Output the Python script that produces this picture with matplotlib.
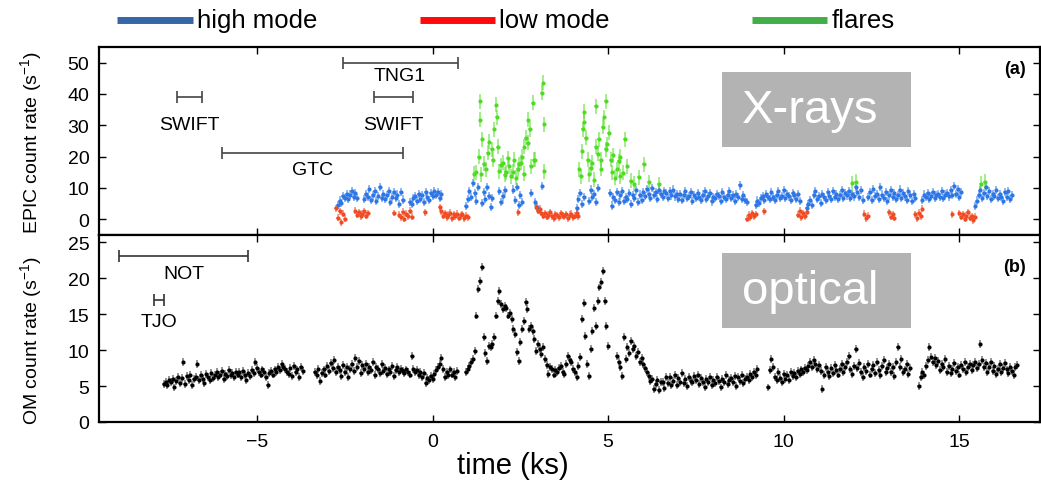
import numpy as np
import matplotlib
matplotlib.use('Agg')
import matplotlib.pyplot as plt
from matplotlib.colors import to_rgba
from matplotlib.lines import Line2D
from matplotlib.patches import Rectangle

plt.rcParams['font.family'] = ['Liberation Sans', 'DejaVu Sans']
plt.rcParams['mathtext.fontset'] = 'custom'
plt.rcParams['mathtext.rm'] = 'Liberation Sans'
plt.rcParams['mathtext.it'] = 'Liberation Sans:italic'
plt.rcParams['mathtext.bf'] = 'Liberation Sans:bold'

DT = 0.05  # light curve bin, ks

# EPIC light curve, high mode: (start time, rates)
high_segments = [
    (-2.70, [4.5, 6.0, 5.2, 7.5, 6.8, 8.2, 6.5, 7.9, 9.0, 7.2, 8.5, 6.8]),
    (-1.95, [6.5, 8.2, 7.0, 9.8, 6.2, 7.6, 8.9, 5.8, 7.4, 10.3, 6.9, 8.0, 6.4, 7.8, 9.1, 5.5,
             7.2, 8.6, 6.7, 7.9, 5.0, 8.8, 6.3]),
    (-0.65, [5.5, 4.8, 6.9, 7.5, 5.9, 8.1, 6.6, 7.7, 5.4, 8.6, 7.0, 6.2, 8.3, 7.4, 9.0, 7.8,
             8.7, 6.9, 8.2]),
    (0.95, [4.2, 6.5, 9.0, 7.2, 11.5, 8.4, 6.0, 10.2]),
    (1.40, [5.2, 8.8, 6.5, 10.3, 7.4, 4.0, 6.9]),
    (1.90, [8.9, 5.6, 7.3, 9.2]),
    (2.30, [9.5, 6.2, 10.2, 4.5, 7.8, 5.5]),
    (4.10, [3.5, 6.5, 8.5, 4.8, 7.2]),
    (4.45, [5.8, 9.5, 7.0, 8.2, 5.4, 9.9]),
    (5.05, [8.5, 4.4, 7.0, 6.1, 8.8, 5.4, 7.6, 9.0, 5.9, 7.2,
            6.4, 8.3, 4.9, 7.7, 6.8, 9.2, 5.6, 7.9, 6.3, 8.6,
            7.4, 9.6, 8.0, 6.9, 9.9, 7.7, 8.8, 6.6, 9.3, 8.1,
            7.1, 9.0, 8.4, 6.8, 8.9, 7.6, 9.5, 7.3, 8.2, 6.5,
            8.0, 6.2, 7.7, 9.1, 6.9, 7.5, 8.6, 5.9, 7.8, 6.7,
            8.4, 7.0, 6.1, 7.9, 9.0, 6.6, 7.4, 8.3, 5.7, 7.2,
            6.8, 8.1, 7.5, 6.0, 8.7, 7.1, 6.4, 7.9, 8.9, 6.9,
            7.6, 5.8, 8.2, 7.0, 10.8, 6.5, 7.8, 6.2, 5.5]),
    (9.20, [4.5, 6.0, 5.2, 6.8, 7.4, 6.1, 8.0, 7.2, 6.5, 8.6, 7.0, 6.3, 7.8, 8.9, 6.7, 7.5,
            9.3, 6.9, 8.1, 7.3, 6.2, 8.4, 7.7, 6.6, 8.0, 5.8]),
    (10.65, [3.5, 5.0, 6.2, 4.6, 7.8, 8.9, 6.5, 7.3, 5.3, 8.2, 7.0, 6.1, 8.7, 7.5, 6.6, 9.0,
             7.2, 8.1, 6.4, 7.7, 9.3, 6.9, 8.4, 7.6, 9.1, 6.8, 8.0, 7.3, 10.2, 8.6, 7.1, 9.4,
             6.3]),
    (12.40, [7.0, 8.6, 6.2, 9.8, 7.4, 8.1, 6.6, 10.3, 7.9, 6.8, 8.8, 5.9, 7.6, 9.2, 7.1, 8.3,
             6.4, 7.8, 9.5, 6.9, 8.5, 7.3, 6.1, 8.9, 7.7, 5.8, 8.2, 6.7]),
    (13.95, [6.2, 7.9, 7.0, 8.5, 6.6, 7.4, 8.8, 6.9, 7.6, 8.1, 7.2, 9.0, 6.8, 7.9, 8.4, 7.3,
             9.3, 7.8, 10.5, 8.2, 9.6, 7.0, 8.6]),
    (15.45, [4.2, 6.0, 7.9, 9.2, 6.8, 8.5, 10.3, 7.4, 9.0, 6.6, 8.1, 7.5, 9.4, 6.9, 8.0, 7.2,
             5.8, 8.7, 7.0, 9.1, 6.4, 7.7]),
]
high_extra_t = [2.80, 2.93, 2.98, 3.12]
high_extra_v = [8.5, 5.4, 3.8, 10.5]

# EPIC light curve, low mode
low_segments = [
    (-2.75, [3.5, 0.5, 2.5, -1.0, 1.8, 0.2]),
    (-2.20, [2.8, 1.5, 2.3, 0.9, 1.8, 2.6, 1.2, 2.0]),
    (-0.95, [1.5, 0.6, 2.4, 0.2, 1.8, 1.0, 2.7, 0.8]),
    (0.20, [3.8, 2.5, 1.2, 1.9, 0.6, 1.4, 2.1, 0.3, 1.6, 0.9, 1.8, 0.5, 1.3, 1.7, 0.4, 1.1, 0.7]),
    (2.95, [4.0, 2.8, 3.4, 2.0, 1.2, 1.9, 0.8, 1.5, 2.2, 1.0, 0.4, 1.7, 1.3, 0.6, 2.0, 1.1,
            0.9, 1.6, 0.3, 1.4, 1.8, 0.7, 1.2, 2.1, 1.0]),
    (8.95, [0.2, 1.5, 0.6, 2.0, 1.0, 1.7]),
    (10.40, [1.5, 2.8, 0.6, 1.9, 0.9, 2.4]),
    (12.30, [1.8, 0.4, 1.2]),
    (13.00, [2.2, 0.8, 1.6, 0.5]),
    (13.75, [1.6, 0.3, 2.1, 0.9, 3.4]),
    (15.00, [2.0, 0.8, 1.6, 0.2, 1.2, 2.3, 0.5, 1.0, -0.3, 0.8]),
]
low_extra_t = [-1.10, -0.22, 2.44, 9.43, 14.80]
low_extra_v = [2.0, 2.2, 2.2, 2.5, 1.6]

# EPIC light curve, flares
flare_t = [1.19, 1.25, 1.31, 1.36, 1.36, 1.39, 1.42, 1.45, 1.53, 1.58, 1.62, 1.68, 1.71,
           1.76, 1.81, 1.83, 1.86, 1.90, 1.95, 2.00, 2.05, 2.09, 2.14, 2.19, 2.24, 2.28,
           2.33, 2.38, 2.42, 2.47, 2.52, 2.56, 2.60, 2.61, 2.66, 2.71, 2.73, 2.77, 2.80,
           2.85, 2.89, 2.93, 3.11, 3.15, 3.18, 3.18,
           4.18, 4.22, 4.26, 4.27, 4.32, 4.32, 4.37, 4.42, 4.46, 4.50, 4.55, 4.60, 4.65,
           4.65, 4.70, 4.74, 4.79, 4.80, 4.84, 4.89, 4.93, 4.94, 4.98, 5.02, 5.07, 5.12,
           5.15, 5.20, 5.26, 5.30, 5.35, 5.35, 5.42, 5.48, 5.55, 5.65, 5.75, 5.88, 6.02,
           6.16, 6.45, 11.95, 12.05, 15.62, 15.72]
flare_v = [14.5, 15.0, 20.0, 37.6, 31.8, 14.3, 25.5, 17.8, 16.0, 21.2, 24.8, 22.3, 19.0,
           28.7, 36.6, 32.5, 23.2, 15.3, 17.2, 18.1, 14.2, 15.0, 19.5, 16.9, 13.7, 15.2,
           19.0, 13.2, 16.0, 17.5, 18.0, 20.0, 14.5, 23.2, 26.0, 24.5, 31.8, 28.7, 17.0,
           37.2, 19.0, 19.0, 40.4, 43.6, 30.3, 15.3,
           16.0, 13.7, 21.7, 28.7, 34.4, 31.2, 26.0, 19.0, 14.3, 16.5, 18.0, 12.7, 36.0,
           23.2, 21.0, 25.5, 19.0, 16.2, 29.6, 32.5, 22.3, 37.6, 24.0, 27.7, 19.0, 15.0,
           20.5, 13.2, 16.0, 18.5, 20.0, 13.7, 14.8, 25.5, 17.0, 12.3, 11.4, 13.4, 17.5,
           11.8, 11.2, 11.5, 12.0, 11.3, 12.0]

# OM light curve: (start time, rates)
om_segments = [
    (-7.65, [5.3, 5.6, 5.1, 5.9, 5.5, 6.0, 4.8, 5.7, 6.2, 5.4,
             6.1, 8.4, 5.3, 6.4, 5.8, 6.6, 5.2, 6.0, 6.3, 8.1,
             5.9, 6.5, 6.0, 5.4, 6.7, 6.2, 5.8, 6.8, 6.1, 6.5,
             6.9, 6.3, 6.6, 7.1, 6.0, 6.7, 6.4, 7.2, 6.5, 6.8,
             6.2, 7.0, 6.6, 6.9, 6.3, 7.1, 6.5, 5.9, 6.8, 6.4,
             7.2, 6.8, 8.4, 7.5, 7.0, 6.6, 7.3, 6.9, 6.2, 5.2,
             6.8, 7.1, 6.6, 7.3, 7.0, 7.6, 7.2, 8.0, 7.7, 7.4,
             7.0, 6.7, 7.5, 6.4, 7.8, 6.9, 7.3, 6.2, 7.6, 7.1]),
    (-3.35, [7.0, 6.5, 7.4, 5.7, 6.8, 7.3, 6.6, 7.8, 7.1, 8.2,
             7.5, 8.6, 6.9, 7.7, 7.2, 6.4, 7.9, 7.0, 7.6, 6.3,
             7.4, 8.0, 7.1, 8.9, 7.6, 8.5, 6.8, 7.9, 7.3, 8.1,
             6.9, 7.6, 7.2, 8.3, 6.5, 7.7, 7.4, 6.8, 8.0, 7.1,
             7.5, 6.7, 7.3, 7.0, 7.8, 6.4, 7.2, 7.6, 6.9, 7.4,
             7.1, 6.8, 7.3, 7.0, 6.6, 9.2, 7.4, 6.9, 7.2, 6.5,
             7.0, 6.3, 6.8, 5.4, 6.1, 5.8, 6.4, 6.0, 6.7, 7.2,
             7.6, 8.1, 8.9, 7.4, 6.2, 7.0, 6.5, 7.3, 6.6, 7.0,
             6.3, 7.1]),
    (0.95, [6.9, 7.4, 7.8, 8.4, 8.8, 9.9, 14.8, 18.5, 19.6, 21.6,
            11.8, 9.6, 8.5, 10.6, 10.4, 10.9, 11.8, 14.8, 16.8, 18.2,
            16.4, 15.7, 16.1, 15.9, 14.8, 15.2, 14.3, 12.9, 12.2, 9.7,
            8.5, 11.1, 12.9, 14.0, 16.7, 15.7, 12.9, 13.4, 12.7, 11.5,
            9.9, 10.8, 10.1, 9.4, 10.4, 8.8, 7.9, 6.7, 7.6, 7.4,
            6.6, 7.2, 6.9, 7.5, 7.8, 7.0, 6.7, 8.0, 9.2, 8.6,
            8.3, 7.4, 6.9, 6.2, 7.8, 9.0, 14.3, 16.6, 12.0, 8.1,
            6.4, 10.1, 12.7, 15.9, 13.4, 16.8, 18.7, 19.4, 21.0, 16.8,
            13.4, 10.6]),
    (5.25, [9.2, 8.3, 7.6, 6.4, 11.8, 8.8, 10.4, 9.6, 11.3, 10.1,
            10.6, 9.2, 9.8, 8.3, 8.9, 8.1, 7.5, 6.9, 6.4, 5.7,
            6.0, 4.6, 5.3, 5.8, 4.4, 5.6, 5.5, 4.7, 6.2, 5.4,
            6.2, 5.1, 5.7, 6.5, 5.2, 6.1, 5.6, 6.8, 5.4, 6.0,
            5.0, 6.3, 5.7, 5.5, 6.4, 5.8, 6.6, 5.3, 6.1, 5.6,
            4.9, 6.0, 5.5, 6.3, 5.2, 5.9, 5.4, 6.2, 5.7, 4.8,
            6.0, 5.6, 6.5, 5.3, 5.8, 6.1, 5.5, 6.4, 5.0, 6.2,
            5.7, 6.6, 5.4, 6.0, 6.3, 5.8, 6.7, 6.2, 7.0, 6.5,
            7.4]),
    (9.55, [4.8, 7.2, 8.8, 7.6, 6.3, 5.8, 6.9, 6.1, 5.5, 6.7,
            6.0, 6.6, 5.9, 7.0, 6.4, 6.8, 6.2, 7.1, 6.7, 7.3,
            6.9, 7.5, 7.2, 7.8, 8.3, 7.6, 8.6, 8.0, 7.4, 7.9,
            7.1, 4.6, 6.5, 7.7, 7.0, 6.4, 7.5, 6.8, 7.9, 7.2,
            6.6, 7.4, 8.1, 6.9, 7.6, 8.3, 9.2, 7.3, 6.7, 7.8,
            10.1, 7.5, 8.2, 7.0, 6.3, 7.7, 7.1, 8.0, 6.6, 7.4,
            7.9, 6.8, 8.4, 7.2, 6.5, 7.8, 8.6, 6.9, 7.5, 8.1,
            7.0, 7.7, 6.4, 8.3, 10.4, 7.6, 8.8, 6.9, 7.3, 8.0,
            6.7, 7.5]),
    (13.85, [5.0, 6.2, 7.0, 6.5, 7.8, 8.6, 10.4, 9.1, 8.3, 8.9,
             7.9, 8.5, 7.2, 8.0, 7.6, 8.7, 7.0, 7.8, 6.8, 7.4,
             8.2, 7.1, 7.7, 6.6, 7.9, 7.3, 8.4, 6.9, 7.6, 8.1,
             7.2, 7.9, 8.3, 7.5, 8.0, 10.8, 8.6, 7.7, 8.2, 7.0,
             7.6, 8.4, 7.1, 7.8, 6.7, 7.4, 8.0, 6.9, 7.5, 8.2,
             7.3, 6.8, 7.7, 7.1, 6.5, 7.6, 7.9]),
]

# typical 1-sigma errors of each light curve
high_err, low_err, flare_err, om_err = 1.3, 1.1, 2.4, 0.55

# observing windows of the other facilities (start, end in ks)
xray_obs = ['TNG1', 'SWIFT', 'SWIFT', 'GTC']
xray_obs_start = [-2.56, -7.27, -1.68, -6.00]
xray_obs_end = [0.71, -6.56, -0.57, -0.85]
xray_obs_level = [50.0, 38.9, 38.9, 21.3]
xray_obs_text_y = [46.0, 30.4, 30.4, 15.8]

om_obs = ['NOT', 'TJO']
om_obs_start = [-8.92, -7.93]
om_obs_end = [-5.26, -7.64]
om_obs_level = [23.1, 16.9]
om_obs_text_y = [20.7, 14.0]


def unpack(segments):
    t, v = [], []
    for t0, vals in segments:
        t.extend(t0 + DT * np.arange(len(vals)))
        v.extend(vals)
    return np.array(t), np.array(v)


def draw_points(ax, t, v, err, color, alpha=0.55):
    ax.errorbar(t, v, yerr=err, xerr=0.045, fmt='o', ms=3.0, mfc=color, mec=color,
                mew=0, ecolor=to_rgba(color, alpha), elinewidth=1.3, capsize=0, zorder=3)


def draw_windows(ax, names, start, end, level, text_y, color):
    for n, s, e, lv, ty in zip(names, start, end, level, text_y):
        ax.errorbar([(s + e) / 2], [lv], xerr=[(e - s) / 2], fmt='none', ecolor=color,
                    elinewidth=1.2, capsize=4.5, capthick=1.2)
        ax.text((s + e) / 2, ty, n, ha='center', va='center', fontsize=14)


def style_axis(ax):
    ax.set_xlim(-9.5, 17.3)
    ax.set_xticks([-5, 0, 5, 10, 15])
    ax.tick_params(direction='in', top=True, right=True, length=5, width=1,
                   labelsize=14)
    ax.tick_params(axis='x', pad=8)
    ax.tick_params(axis='y', pad=7)
    for sp in ax.spines.values():
        sp.set_linewidth(1.6)


fig = plt.figure(figsize=(10.41, 4.81), dpi=100)
ax1 = fig.add_axes([0.0951, 0.5094, 0.904, 0.3909])
ax2 = fig.add_axes([0.0951, 0.1206, 0.904, 0.3888])

# X-ray panel
ht, hv = unpack(high_segments)
ht = np.concatenate([ht, high_extra_t])
hv = np.concatenate([hv, high_extra_v])
lt, lv = unpack(low_segments)
lt = np.concatenate([lt, low_extra_t])
lv = np.concatenate([lv, low_extra_v])

draw_points(ax1, ht, hv, high_err, '#2d76e6')
draw_points(ax1, lt, lv, low_err, '#f04b22')
draw_points(ax1, flare_t, flare_v, flare_err, '#4ddc1f')
draw_windows(ax1, xray_obs, xray_obs_start, xray_obs_end, xray_obs_level,
             xray_obs_text_y, '#444444')

style_axis(ax1)
ax1.set_ylim(-5, 55)
ax1.set_yticks([0, 10, 20, 30, 40, 50])
ax1.tick_params(labelbottom=False)
ax1.set_ylabel('EPIC count rate (s$^{-1}$)', fontsize=14)
ax1.yaxis.set_label_coords(-0.058, 0.495)
ax1.text(0.973, 0.883, '(a)', transform=ax1.transAxes, fontsize=13,
         fontweight='bold', ha='center', va='center')
ax1.add_patch(Rectangle((0.662, 0.468), 0.201, 0.399, transform=ax1.transAxes,
                        facecolor='#b3b3b3', edgecolor='none', zorder=4))
ax1.text(0.7556, 0.665, 'X-rays', transform=ax1.transAxes, fontsize=34,
         color='white', ha='center', va='center', zorder=5)

# optical panel
ot, ov = unpack(om_segments)
ax2.errorbar(ot, ov, yerr=om_err, xerr=0.045, fmt='o', ms=3.0, mfc='black',
             mec='black', mew=0, ecolor=(0.3, 0.3, 0.3, 0.65), elinewidth=1.3,
             capsize=0, zorder=3)
draw_windows(ax2, om_obs, om_obs_start, om_obs_end, om_obs_level,
             om_obs_text_y, '#333333')

style_axis(ax2)
ax2.set_ylim(0, 26)
ax2.set_yticks([0, 5, 10, 15, 20, 25])
ax2.set_ylabel('OM count rate (s$^{-1}$)', fontsize=14)
ax2.yaxis.set_label_coords(-0.058, 0.44)
ax2.text(0.973, 0.829, '(b)', transform=ax2.transAxes, fontsize=13,
         fontweight='bold', ha='center', va='center')
ax2.add_patch(Rectangle((0.662, 0.503), 0.201, 0.401, transform=ax2.transAxes,
                        facecolor='#b3b3b3', edgecolor='none', zorder=4))
ax2.text(0.7556, 0.70, 'optical', transform=ax2.transAxes, fontsize=34,
         color='white', ha='center', va='center', zorder=5)

fig.text(0.493, 0.0146, 'time (ks)', fontsize=21, ha='center', va='baseline')

# legend along the top edge
legend_items = [('high mode', '#3566a8', 0.1124, 0.1854),
                ('low mode', '#ff0a0a', 0.4035, 0.4755),
                ('flares', '#41ae47', 0.7224, 0.7944)]
for label, col, x0, x1 in legend_items:
    fig.add_artist(Line2D([x0, x1], [0.957, 0.957], color=col, lw=5,
                          solid_capstyle='butt', transform=fig.transFigure))
    fig.text(x1 + 0.004, 0.942, label, fontsize=18.5, va='baseline', ha='left')

fig.savefig('out.png', dpi=100)
